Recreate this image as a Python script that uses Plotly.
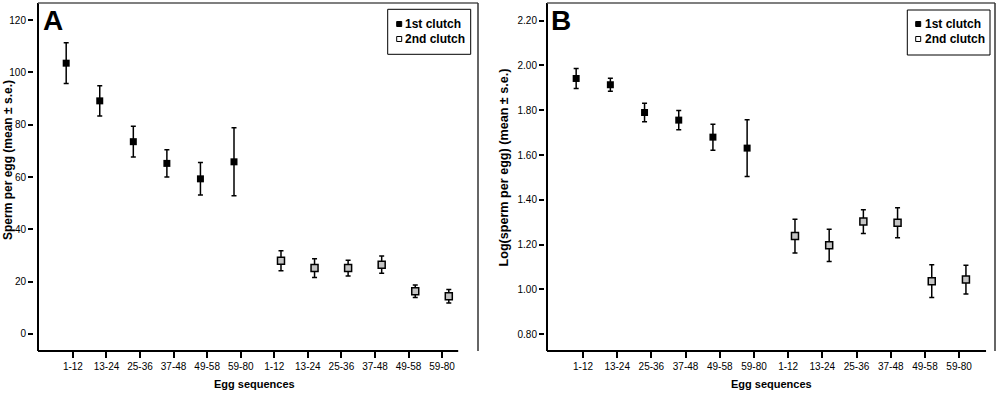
import plotly.graph_objects as go

# ---------------- data ----------------
categories = ["1-12", "13-24", "25-36", "37-48", "49-58", "59-80"]
tick_labels = categories + categories

a_first_mean = [103.5, 89.1, 73.5, 65.2, 59.3, 65.8]
a_first_se = [7.8, 5.8, 5.9, 5.2, 6.2, 13.0]
a_second_mean = [28.0, 25.2, 25.2, 26.5, 16.3, 14.4]
a_second_se = [3.8, 3.6, 3.0, 3.3, 2.4, 2.6]

b_first_mean = [1.942, 1.914, 1.790, 1.756, 1.680, 1.631]
b_first_se = [0.045, 0.029, 0.041, 0.043, 0.058, 0.127]
b_second_mean = [1.238, 1.197, 1.303, 1.298, 1.037, 1.044]
b_second_se = [0.075, 0.072, 0.053, 0.067, 0.073, 0.064]

a_yticks = [0, 20, 40, 60, 80, 100, 120]
b_yticks = [0.80, 1.00, 1.20, 1.40, 1.60, 1.80, 2.00, 2.20]

series_names = ["1st clutch", "2nd clutch"]

# ---------------- layout helpers ----------------
W, H = 1000, 394
FONT = "Liberation Sans, Arial, sans-serif"


def px(x):
    return x / W


def py(y):
    return 1 - y / H


n = len(categories)
off = 0.2
x_first = [i - off for i in range(n)]
x_second = [n + i + off for i in range(n)]

first_marker = dict(symbol="square", size=7, color="black", line=dict(width=0))
second_marker = dict(symbol="square", size=7, color="#c4c4c4", line=dict(width=1.5, color="black"))


def err(arr):
    return dict(type="data", array=arr, visible=True, thickness=1.5, width=2.5, color="black")


fig = go.Figure()
fig.add_trace(go.Scatter(x=x_first, y=a_first_mean, mode="markers", name=series_names[0],
                         marker=first_marker, error_y=err(a_first_se), xaxis="x", yaxis="y",
                         showlegend=False))
fig.add_trace(go.Scatter(x=x_second, y=a_second_mean, mode="markers", name=series_names[1],
                         marker=second_marker, error_y=err(a_second_se), xaxis="x", yaxis="y",
                         showlegend=False))
fig.add_trace(go.Scatter(x=x_first, y=b_first_mean, mode="markers", name=series_names[0],
                         marker=first_marker, error_y=err(b_first_se), xaxis="x2", yaxis="y2",
                         showlegend=False))
fig.add_trace(go.Scatter(x=x_second, y=b_second_mean, mode="markers", name=series_names[1],
                         marker=second_marker, error_y=err(b_second_se), xaxis="x2", yaxis="y2",
                         showlegend=False))

ydom = [py(351), py(3)]
common_x = dict(tickvals=list(range(2 * n)), ticktext=tick_labels, ticks="outside", ticklen=6,
                tickwidth=1.5, tickcolor="black", showline=False, showgrid=False, zeroline=False,
                tickfont=dict(family=FONT, size=10, color="black"), fixedrange=True)
common_y = dict(ticks="outside", ticklen=5, tickwidth=1.5, tickcolor="black", showline=False,
                showgrid=False, zeroline=False, anchor="free",
                tickfont=dict(family=FONT, size=10, color="black"), fixedrange=True)

fig.update_layout(
    width=W, height=H,
    margin=dict(l=0, r=0, t=0, b=0),
    paper_bgcolor="white", plot_bgcolor="white",
    font=dict(family=FONT, color="black"),
    showlegend=False,
    xaxis=dict(domain=[px(38), px(478)], range=[-1.04, 12.07], anchor="y", **common_x),
    yaxis=dict(domain=ydom, range=[-6.5, 126.5], tickvals=a_yticks, position=px(33), **common_y),
    xaxis2=dict(domain=[px(547), px(995)], range=[-1.053, 12.05], anchor="y2", **common_x),
    yaxis2=dict(domain=ydom, range=[0.725, 2.279], tickvals=b_yticks, tickformat=".2f",
                position=px(544), **common_y),
)

shapes = []
annotations = []

panels = [
    dict(xd="x domain", yd="y domain", bottom_end=0.955, letter="A", lx=53,
         ytitle="Sperm per egg (mean ± s.e.)", ytx=8, yty=160, ytsize=12, xtx=254,
         leg=(387.7, 470.7, 9.3, 54.3), mk=396.7, tx=402.5),
    dict(xd="x2 domain", yd="y2 domain", bottom_end=0.98, letter="B", lx=561,
         ytitle="Log(sperm per egg) (mean ± s.e.)", ytx=503, yty=167.5, ytsize=12.6, xtx=771,
         leg=(907.3, 990, 10, 55), mk=915.7, tx=922.7),
]

for p in panels:
    xd, yd = p["xd"], p["yd"]
    # frame
    shapes.append(dict(type="line", xref=xd, yref=yd, x0=0, x1=0, y0=0, y1=1,
                       line=dict(color="black", width=2)))
    shapes.append(dict(type="line", xref=xd, yref=yd, x0=0, x1=1, y0=1, y1=1,
                       line=dict(color="#555555", width=1.5)))
    shapes.append(dict(type="line", xref=xd, yref=yd, x0=1, x1=1, y0=0, y1=1,
                       line=dict(color="#333333", width=1.5)))
    shapes.append(dict(type="line", xref=xd, yref=yd, x0=0, x1=p["bottom_end"], y0=0, y1=0,
                       line=dict(color="black", width=2)))
    # panel letter
    annotations.append(dict(text="<b>%s</b>" % p["letter"], x=px(p["lx"]), y=py(21),
                            xref="paper", yref="paper", showarrow=False,
                            xanchor="center", yanchor="middle",
                            font=dict(family=FONT, size=28, color="black")))
    # axis titles
    annotations.append(dict(text="<b>%s</b>" % p["ytitle"], x=px(p["ytx"]), y=py(p["yty"]),
                            xref="paper", yref="paper", showarrow=False, textangle=-90,
                            xanchor="center", yanchor="middle",
                            font=dict(family=FONT, size=p["ytsize"], color="black")))
    annotations.append(dict(text="<b>Egg sequences</b>", x=px(p["xtx"]), y=py(384),
                            xref="paper", yref="paper", showarrow=False,
                            xanchor="center", yanchor="middle",
                            font=dict(family=FONT, size=11, color="black")))
    # legend box
    x0, x1, y0, y1 = p["leg"]
    shapes.append(dict(type="rect", xref="paper", yref="paper", x0=px(x0), x1=px(x1),
                       y0=py(y1), y1=py(y0), line=dict(color="black", width=1),
                       fillcolor="white"))
    for k, (name, yy) in enumerate(zip(series_names, [24, 39])):
        fill = "black" if k == 0 else "white"
        shapes.append(dict(type="rect", xref="paper", yref="paper",
                           x0=px(p["mk"]), x1=px(p["mk"] + 5), y0=py(yy + 2.5), y1=py(yy - 2.5),
                           line=dict(color="black", width=1), fillcolor=fill))
        annotations.append(dict(text="<b>%s</b>" % name, x=px(p["tx"]), y=py(yy),
                                xref="paper", yref="paper", showarrow=False,
                                xanchor="left", yanchor="middle",
                                font=dict(family=FONT, size=12, color="black")))

fig.update_layout(shapes=shapes, annotations=annotations)

fig.write_html("out.html", config={"displayModeBar": False},
               post_script="document.body.style.margin='0';document.body.style.padding='0';")
